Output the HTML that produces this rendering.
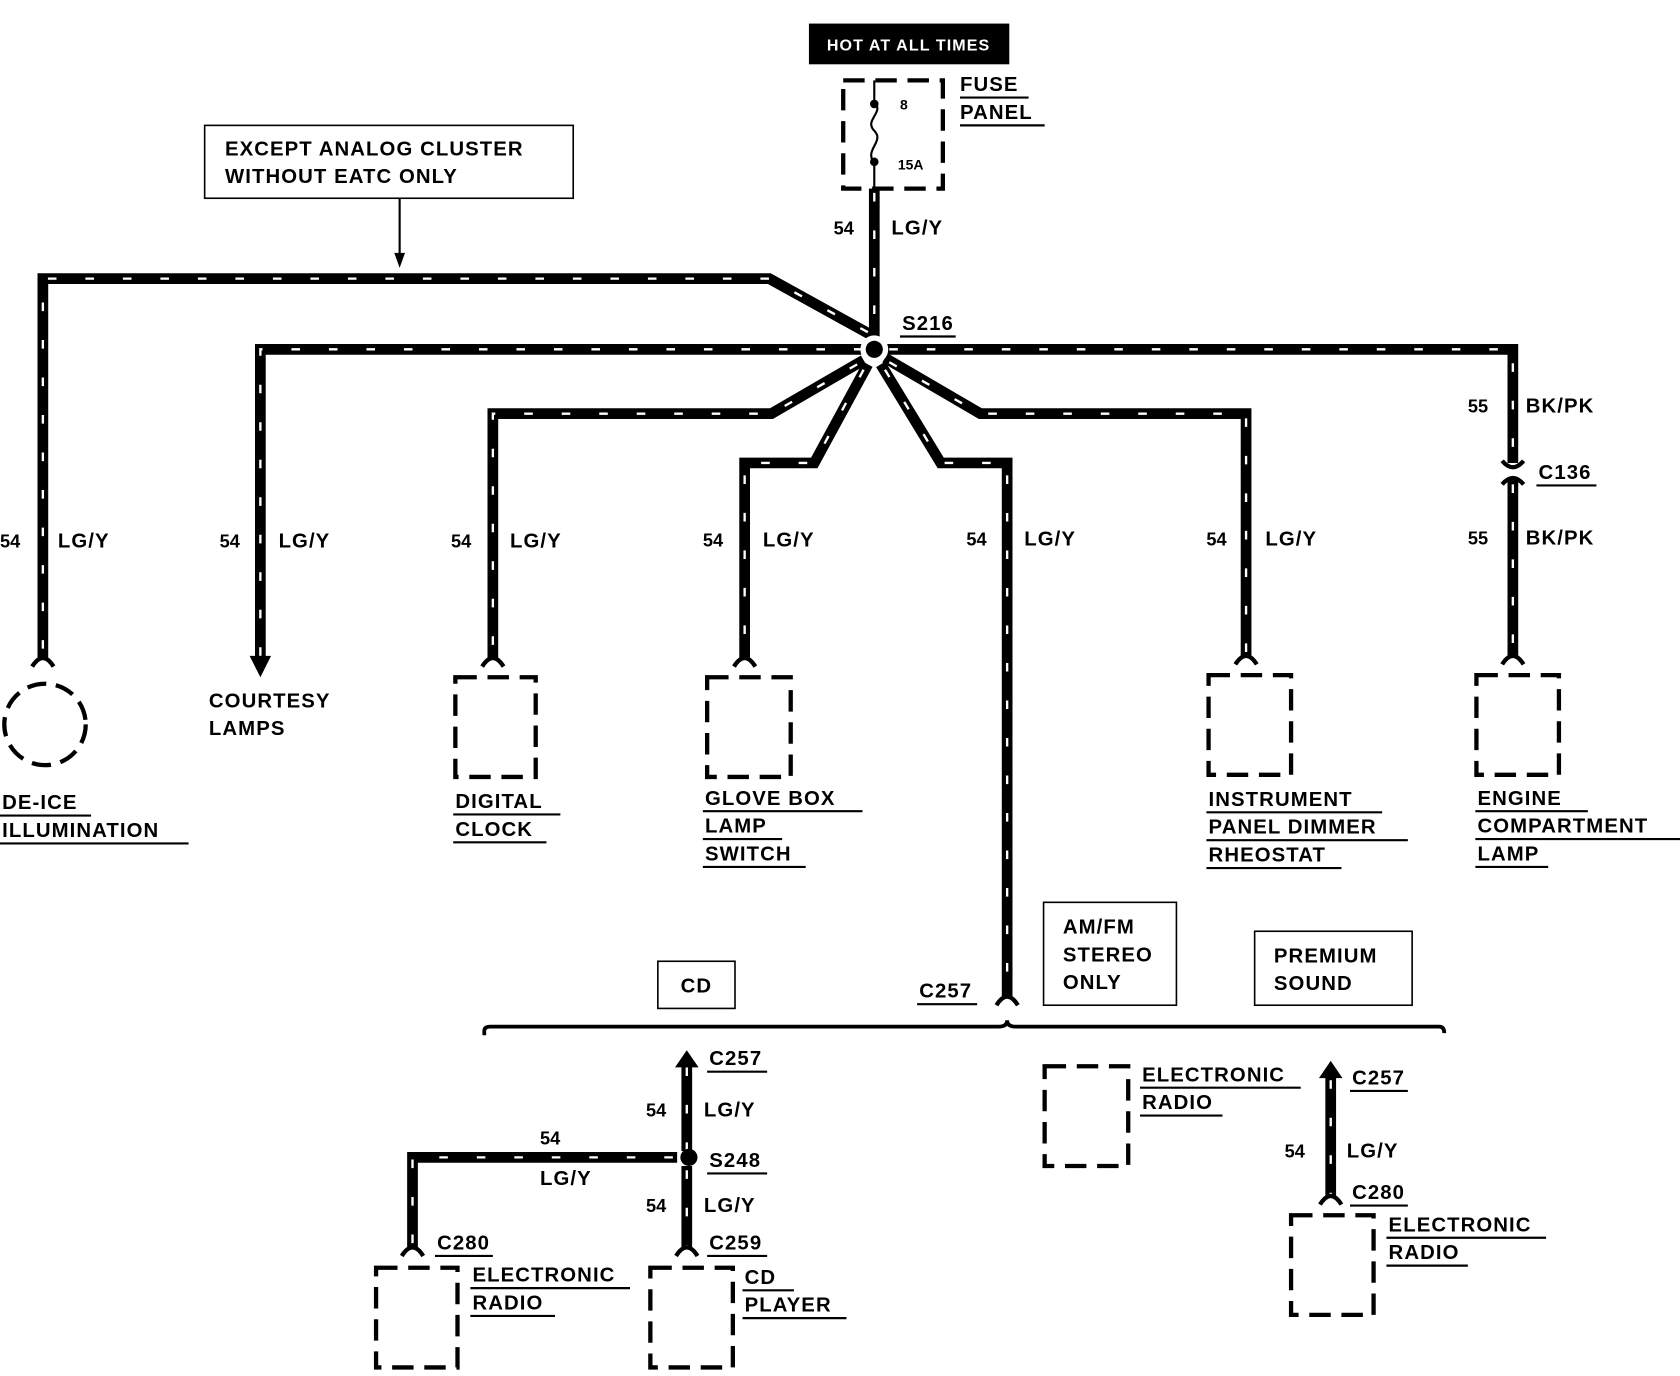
<!DOCTYPE html>
<html><head><meta charset="utf-8">
<style>
html,body{margin:0;padding:0;background:#fff;}
svg{display:block;}
.w{stroke:#000;stroke-width:10;fill:none;stroke-linejoin:miter;}
.d{stroke:#fff;stroke-width:2.2;fill:none;stroke-dasharray:8 27;}
.t{font-family:"Liberation Sans",sans-serif;font-size:19px;font-weight:bold;fill:#000;letter-spacing:1px;}
.n{font-family:"Liberation Sans",sans-serif;font-size:17px;font-weight:bold;fill:#000;}
.u{stroke:#000;stroke-width:2;}
.box{fill:none;stroke:#000;stroke-width:4;stroke-dasharray:20 10;}
.f{fill:none;stroke:#000;stroke-width:4;}
.l{stroke:#000;stroke-width:2;fill:none;}
</style></head><body>
<svg width="1680" height="1376" viewBox="0 0 1568 1284" preserveAspectRatio="none" xmlns="http://www.w3.org/2000/svg">
<rect x="755" y="22" width="187" height="38" fill="#000"/>
<text x="848" y="47" text-anchor="middle" font-family="Liberation Sans,sans-serif" font-size="15" font-weight="bold" fill="#fff" letter-spacing="1">HOT AT ALL TIMES</text>
<rect x="787" y="75" width="93" height="101" class="box"/>
<path d="M816 75 V95 M816 152 V176" class="l" stroke-width="2.5"/>
<path d="M816 95 C826 105,806 112,816 122 C826 132,806 140,816 152" class="l" stroke-width="2"/>
<circle cx="816" cy="97" r="4"/><circle cx="816" cy="151" r="4"/>
<text x="840" y="102" font-family="Liberation Sans,sans-serif" font-size="13" font-weight="bold">8</text>
<text x="838" y="158" font-family="Liberation Sans,sans-serif" font-size="13" font-weight="bold">15A</text>
<text x="896" y="85" class="t">FUSE</text><line x1="896" y1="91" x2="960" y2="91" class="u"/>
<text x="896" y="111" class="t">PANEL</text><line x1="896" y1="117" x2="975" y2="117" class="u"/>
<text x="778" y="219" class="n">54</text><text x="832" y="219" class="t">LG/Y</text>
<rect x="191" y="117" width="344" height="68" fill="none" stroke="#000" stroke-width="1.5"/>
<text x="210" y="145" class="t">EXCEPT ANALOG CLUSTER</text>
<text x="210" y="171" class="t">WITHOUT EATC ONLY</text>
<line x1="373" y1="185" x2="373" y2="240" class="l"/>
<path d="M368 236 L378 236 L373 250 Z"/>
<g>
<path class="w" d="M816 176 V318"/><path class="d" d="M816 180 V318"/>
<path class="w" d="M812 312 L718 260 H40 V614"/><path class="d" d="M810 310 L718 260 H40 V612"/>
<path class="w" d="M810 326 H243 V615"/><path class="d" d="M805 326 H243 V615"/>
<path class="w" d="M806 336 L720 386 H460 V614"/><path class="d" d="M800 340 L720 386 H460 V612"/>
<path class="w" d="M810 340 L760 432 H695 V614"/><path class="d" d="M806 345 L760 432 H695 V612"/>
<path class="w" d="M822 340 L878 432 H940 V930"/><path class="d" d="M826 345 L878 432 H940 V928"/>
<path class="w" d="M826 334 L915 386 H1163 V612"/><path class="d" d="M830 338 L915 386 H1163 V610"/>
<path class="w" d="M826 326 H1412 V432"/><path class="d" d="M830 326 H1412 V428"/>
<path class="w" d="M1412 448 V612"/><path class="d" d="M1412 452 V610"/>
</g>
<circle cx="816" cy="326" r="13" fill="#fff"/><circle cx="816" cy="326" r="8" fill="#000"/>
<text x="842" y="308" class="t">S216</text><line x1="840" y1="314" x2="892" y2="314" class="u"/>
<path d="M1402 430 Q1412 442 1422 430" class="f"/>
<path d="M1402 452 Q1412 440 1422 452" class="f"/>
<text x="1436" y="447" class="t">C136</text><line x1="1434" y1="453" x2="1490" y2="453" class="u"/>
<text x="1370" y="385" class="n">55</text><text x="1424" y="385" class="t">BK/PK</text>
<text x="1370" y="508" class="n">55</text><text x="1424" y="508" class="t">BK/PK</text>
<path d="M30 622 Q40 606 50 622" class="f"/>
<path d="M450 622 Q460 606 470 622" class="f"/>
<path d="M685 622 Q695 606 705 622" class="f"/>
<path d="M1153 620 Q1163 604 1173 620" class="f"/>
<path d="M1402 620 Q1412 604 1422 620" class="f"/>
<path d="M930 938 Q940 922 950 938" class="f"/>
<path d="M233 612 L253 612 L243 632 Z"/>
<text x="0" y="511" class="n">54</text><text x="54" y="511" class="t">LG/Y</text>
<text x="205" y="511" class="n">54</text><text x="260" y="511" class="t">LG/Y</text>
<text x="421" y="511" class="n">54</text><text x="476" y="511" class="t">LG/Y</text>
<text x="656" y="510" class="n">54</text><text x="712" y="510" class="t">LG/Y</text>
<text x="902" y="509" class="n">54</text><text x="956" y="509" class="t">LG/Y</text>
<text x="1126" y="509" class="n">54</text><text x="1181" y="509" class="t">LG/Y</text>
<circle cx="42" cy="676" r="38" fill="none" stroke="#000" stroke-width="4" stroke-dasharray="18 9"/>
<text x="2" y="755" class="t">DE-ICE</text><line x1="0" y1="761" x2="85" y2="761" class="u"/>
<text x="2" y="781" class="t">ILLUMINATION</text><line x1="0" y1="787" x2="176" y2="787" class="u"/>
<text x="195" y="660" class="t">COURTESY</text>
<text x="195" y="686" class="t">LAMPS</text>
<rect x="425" y="632" width="75" height="93" class="box"/>
<text x="425" y="754" class="t">DIGITAL</text><line x1="423" y1="760" x2="523" y2="760" class="u"/>
<text x="425" y="780" class="t">CLOCK</text><line x1="423" y1="786" x2="510" y2="786" class="u"/>
<rect x="660" y="632" width="78" height="93" class="box"/>
<text x="658" y="751" class="t">GLOVE BOX</text><line x1="656" y1="757" x2="805" y2="757" class="u"/>
<text x="658" y="777" class="t">LAMP</text><line x1="656" y1="783" x2="730" y2="783" class="u"/>
<text x="658" y="803" class="t">SWITCH</text><line x1="656" y1="809" x2="752" y2="809" class="u"/>
<rect x="1128" y="630" width="77" height="93" class="box"/>
<text x="1128" y="752" class="t">INSTRUMENT</text><line x1="1126" y1="758" x2="1290" y2="758" class="u"/>
<text x="1128" y="778" class="t">PANEL DIMMER</text><line x1="1126" y1="784" x2="1314" y2="784" class="u"/>
<text x="1128" y="804" class="t">RHEOSTAT</text><line x1="1126" y1="810" x2="1252" y2="810" class="u"/>
<rect x="1378" y="630" width="77" height="93" class="box"/>
<text x="1379" y="751" class="t">ENGINE</text><line x1="1377" y1="757" x2="1482" y2="757" class="u"/>
<text x="1379" y="777" class="t">COMPARTMENT</text><line x1="1377" y1="783" x2="1568" y2="783" class="u"/>
<text x="1379" y="803" class="t">LAMP</text><line x1="1377" y1="809" x2="1445" y2="809" class="u"/>
<rect x="614" y="897" width="72" height="44" fill="none" stroke="#000" stroke-width="1.5"/>
<text x="650" y="926" class="t" text-anchor="middle">CD</text>
<rect x="974" y="842" width="124" height="96" fill="none" stroke="#000" stroke-width="1.5"/>
<text x="992" y="871" class="t">AM/FM</text><text x="992" y="897" class="t">STEREO</text><text x="992" y="923" class="t">ONLY</text>
<rect x="1171" y="869" width="147" height="69" fill="none" stroke="#000" stroke-width="1.5"/>
<text x="1189" y="898" class="t">PREMIUM</text><text x="1189" y="924" class="t">SOUND</text>
<text x="858" y="931" class="t">C257</text><line x1="856" y1="937" x2="912" y2="937" class="u"/>
<path d="M452 966 V962 Q452 958 458 958 H932 Q940 958 940 952 Q940 958 948 958 H1343 Q1348 958 1348 964" fill="none" stroke="#000" stroke-width="3.5"/>
<path class="w" d="M641 992 V1074"/><path class="d" d="M641 996 V1074"/>
<path class="w" d="M641 1088 V1165"/><path class="d" d="M641 1092 V1163"/>
<path class="w" d="M632 1080 H385 V1165"/><path class="d" d="M628 1080 H385 V1163"/>
<path d="M630 996 L641 980 L652 996 Z"/>
<circle cx="643" cy="1080" r="8"/>
<path d="M375 1172 Q385 1156 395 1172" class="f"/>
<path d="M631 1172 Q641 1156 651 1172" class="f"/>
<text x="662" y="994" class="t">C257</text><line x1="660" y1="1000" x2="716" y2="1000" class="u"/>
<text x="603" y="1042" class="n">54</text><text x="657" y="1042" class="t">LG/Y</text>
<text x="504" y="1068" class="n">54</text>
<text x="504" y="1106" class="t">LG/Y</text>
<text x="662" y="1089" class="t">S248</text><line x1="660" y1="1095" x2="716" y2="1095" class="u"/>
<text x="603" y="1131" class="n">54</text><text x="657" y="1131" class="t">LG/Y</text>
<text x="408" y="1166" class="t">C280</text><line x1="406" y1="1172" x2="460" y2="1172" class="u"/>
<text x="662" y="1166" class="t">C259</text><line x1="660" y1="1172" x2="716" y2="1172" class="u"/>
<rect x="351" y="1183" width="76" height="93" class="box"/>
<text x="441" y="1196" class="t">ELECTRONIC</text><line x1="439" y1="1202" x2="588" y2="1202" class="u"/>
<text x="441" y="1222" class="t">RADIO</text><line x1="439" y1="1228" x2="518" y2="1228" class="u"/>
<rect x="607" y="1183" width="77" height="93" class="box"/>
<text x="695" y="1198" class="t">CD</text><line x1="693" y1="1204" x2="741" y2="1204" class="u"/>
<text x="695" y="1224" class="t">PLAYER</text><line x1="693" y1="1230" x2="790" y2="1230" class="u"/>
<rect x="975" y="995" width="78" height="93" class="box"/>
<text x="1066" y="1009" class="t">ELECTRONIC</text><line x1="1064" y1="1015" x2="1214" y2="1015" class="u"/>
<text x="1066" y="1035" class="t">RADIO</text><line x1="1064" y1="1041" x2="1141" y2="1041" class="u"/>
<path class="w" d="M1242 1004 V1116"/><path class="d" d="M1242 1008 V1114"/>
<path d="M1231 1006 L1242 990 L1253 1006 Z"/>
<path d="M1232 1124 Q1242 1108 1252 1124" class="f"/>
<text x="1262" y="1012" class="t">C257</text><line x1="1260" y1="1018" x2="1314" y2="1018" class="u"/>
<text x="1199" y="1080" class="n">54</text><text x="1257" y="1080" class="t">LG/Y</text>
<text x="1262" y="1119" class="t">C280</text><line x1="1260" y1="1125" x2="1314" y2="1125" class="u"/>
<rect x="1205" y="1134" width="77" height="93" class="box"/>
<text x="1296" y="1149" class="t">ELECTRONIC</text><line x1="1294" y1="1155" x2="1443" y2="1155" class="u"/>
<text x="1296" y="1175" class="t">RADIO</text><line x1="1294" y1="1181" x2="1370" y2="1181" class="u"/>
</svg>
</body></html>
